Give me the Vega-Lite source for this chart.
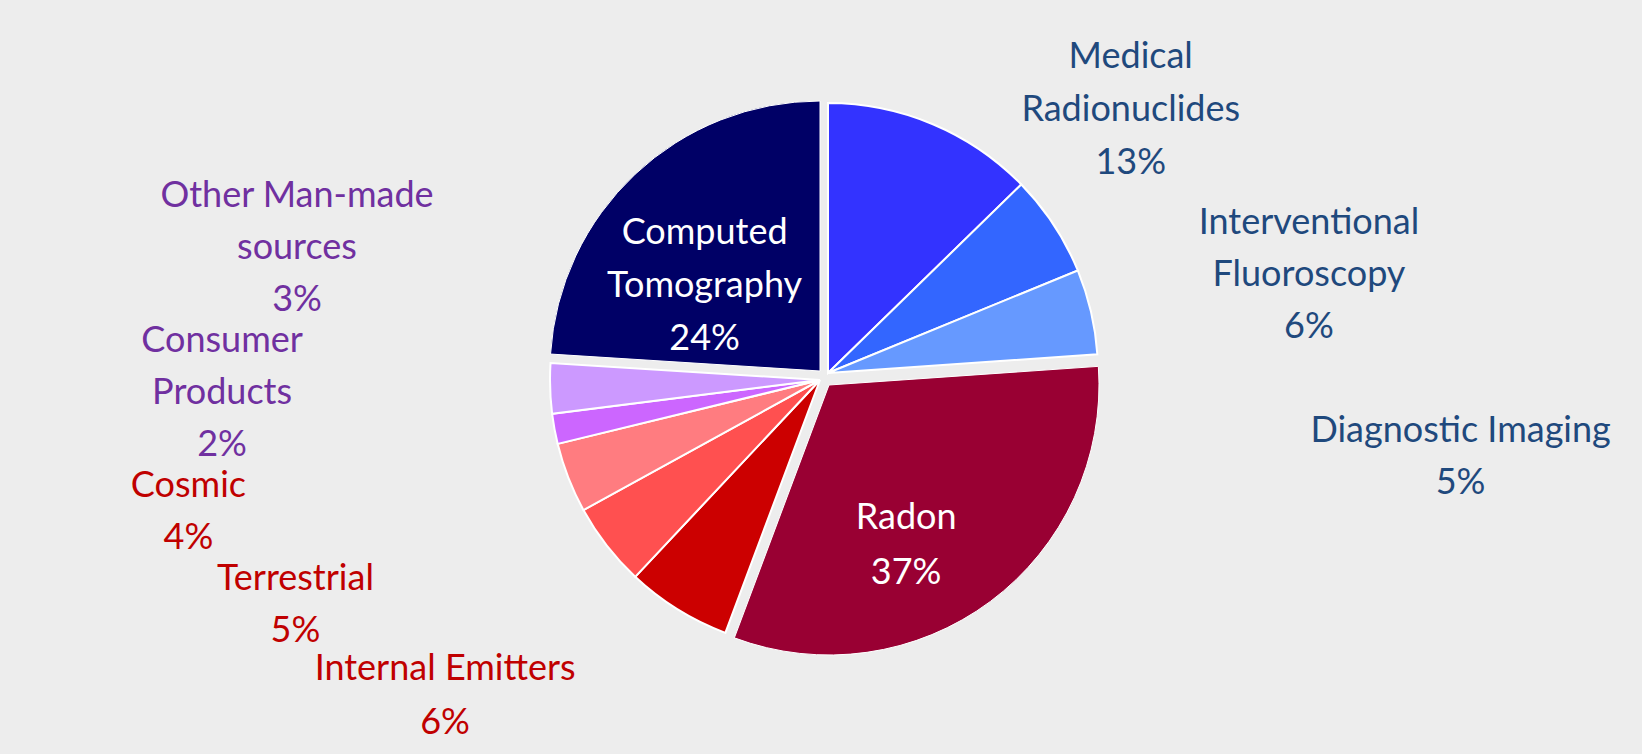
{
  "$schema": "https://vega.github.io/schema/vega-lite/v6.json",
  "width": 1642,
  "height": 754,
  "autosize": {"type": "fit", "contains": "padding"},
  "padding": 0,
  "background": "#ededed",
  "config": {"view": {"stroke": null}, "text": {"font": "Lato"}},
  "data": {
    "values": [
      {"order": 1, "source": "Medical Radionuclides", "value": 12.7, "label": "Medical\nRadionuclides\n13%"},
      {"order": 2, "source": "Interventional Fluoroscopy", "value": 6.1, "label": "Interventional\nFluoroscopy\n6%"},
      {"order": 3, "source": "Diagnostic Imaging", "value": 5.1, "label": "Diagnostic Imaging\n5%"},
      {"order": 4, "source": "Radon", "value": 31.8, "label": "Radon\n37%"},
      {"order": 5, "source": "Internal Emitters", "value": 6.3, "label": "Internal Emitters\n6%"},
      {"order": 6, "source": "Terrestrial", "value": 5.0, "label": "Terrestrial\n5%"},
      {"order": 7, "source": "Cosmic", "value": 4.2, "label": "Cosmic\n4%"},
      {"order": 8, "source": "Consumer Products", "value": 1.8, "label": "Consumer\nProducts\n2%"},
      {"order": 9, "source": "Other Man-made sources", "value": 3.0, "label": "Other Man-made\nsources\n3%"},
      {"order": 10, "source": "Computed Tomography", "value": 24.0, "label": "Computed\nTomography\n24%"}
    ]
  },
  "transform": [
    {"stack": "value", "groupby": [], "sort": [{"field": "order", "order": "ascending"}], "as": ["v0", "v1"]}
  ],
  "layer": [
    {
      "transform": [{"filter": "datum.order >= 1 && datum.order <= 3"}],
      "mark": {"type": "arc", "outerRadius": 270, "stroke": "#ffffff", "strokeWidth": 2, "xOffset": 7, "yOffset": -4},
      "encoding": {
        "theta": {"field": "v0", "type": "quantitative", "stack": null, "scale": {"domain": [0, 100]}},
        "theta2": {"field": "v1"},
        "color": {"field": "source", "type": "nominal", "legend": null,
          "scale": {"domain": ["Medical Radionuclides", "Interventional Fluoroscopy", "Diagnostic Imaging", "Radon", "Internal Emitters", "Terrestrial", "Cosmic", "Consumer Products", "Other Man-made sources", "Computed Tomography"],
                    "range": ["#3333ff", "#3366ff", "#6699ff", "#990033", "#cc0000", "#ff5050", "#ff7c80", "#cc66ff", "#cc99ff", "#000066"]}}
      }
    },
    {
      "transform": [{"filter": "datum.order == 4"}],
      "mark": {"type": "arc", "outerRadius": 270, "stroke": "#ffffff", "strokeWidth": 1, "xOffset": 8, "yOffset": 8},
      "encoding": {
        "theta": {"field": "v0", "type": "quantitative", "stack": null},
        "theta2": {"field": "v1"},
        "color": {"field": "source", "type": "nominal", "legend": null}
      }
    },
    {
      "transform": [{"filter": "datum.order >= 5 && datum.order <= 9"}],
      "mark": {"type": "arc", "outerRadius": 270, "stroke": "#ffffff", "strokeWidth": 2, "xOffset": -1, "yOffset": 3},
      "encoding": {
        "theta": {"field": "v0", "type": "quantitative", "stack": null},
        "theta2": {"field": "v1"},
        "color": {"field": "source", "type": "nominal", "legend": null}
      }
    },
    {
      "transform": [{"filter": "datum.order == 10"}],
      "mark": {"type": "arc", "outerRadius": 270, "stroke": "#ffffff", "strokeWidth": 1, "xOffset": -1, "yOffset": -6},
      "encoding": {
        "theta": {"field": "v0", "type": "quantitative", "stack": null},
        "theta2": {"field": "v1"},
        "color": {"field": "source", "type": "nominal", "legend": null}
      }
    },
    {
      "transform": [{"filter": "datum.order == 1"}],
      "mark": {"type": "text", "radius": 413, "thetaOffset": 0.848, "dy": -47, "color": "#1f497d", "fontSize": 36, "lineHeight": 53, "lineBreak": "\n", "align": "center", "baseline": "middle"},
      "encoding": {"theta": {"field": "v0", "type": "quantitative", "stack": null}, "text": {"field": "label"}}
    },
    {
      "transform": [{"filter": "datum.order == 2"}],
      "mark": {"type": "text", "radius": 500, "thetaOffset": 0.553, "dy": -45, "color": "#1f497d", "fontSize": 36, "lineHeight": 52, "lineBreak": "\n", "align": "center", "baseline": "middle"},
      "encoding": {"theta": {"field": "v0", "type": "quantitative", "stack": null}, "text": {"field": "label"}}
    },
    {
      "transform": [{"filter": "datum.order == 3"}],
      "mark": {"type": "text", "radius": 644, "thetaOffset": 0.5065, "dy": -21, "color": "#1f497d", "fontSize": 36, "lineHeight": 52, "lineBreak": "\n", "align": "center", "baseline": "middle"},
      "encoding": {"theta": {"field": "v0", "type": "quantitative", "stack": null}, "text": {"field": "label"}}
    },
    {
      "transform": [{"filter": "datum.order == 4"}],
      "mark": {"type": "text", "radius": 185, "thetaOffset": 1.1617, "dy": -23, "color": "#ffffff", "fontSize": 36, "lineHeight": 55, "lineBreak": "\n", "align": "center", "baseline": "middle"},
      "encoding": {"theta": {"field": "v0", "type": "quantitative", "stack": null}, "text": {"field": "label"}}
    },
    {
      "transform": [{"filter": "datum.order == 5"}],
      "mark": {"type": "text", "radius": 490, "thetaOffset": 0.5163, "dy": -22, "color": "#c00000", "fontSize": 36, "lineHeight": 54, "lineBreak": "\n", "align": "center", "baseline": "middle"},
      "encoding": {"theta": {"field": "v0", "type": "quantitative", "stack": null}, "text": {"field": "label"}}
    },
    {
      "transform": [{"filter": "datum.order == 6"}],
      "mark": {"type": "text", "radius": 571, "thetaOffset": 0.4154, "dy": -21, "color": "#c00000", "fontSize": 36, "lineHeight": 52, "lineBreak": "\n", "align": "center", "baseline": "middle"},
      "encoding": {"theta": {"field": "v0", "type": "quantitative", "stack": null}, "text": {"field": "label"}}
    },
    {
      "transform": [{"filter": "datum.order == 7"}],
      "mark": {"type": "text", "radius": 646, "thetaOffset": 0.2985, "dy": -22, "color": "#c00000", "fontSize": 36, "lineHeight": 52, "lineBreak": "\n", "align": "center", "baseline": "middle"},
      "encoding": {"theta": {"field": "v0", "type": "quantitative", "stack": null}, "text": {"field": "label"}}
    },
    {
      "transform": [{"filter": "datum.order == 8"}],
      "mark": {"type": "text", "radius": 599, "thetaOffset": 0.2213, "dy": -46, "color": "#7030a0", "fontSize": 36, "lineHeight": 52, "lineBreak": "\n", "align": "center", "baseline": "middle"},
      "encoding": {"theta": {"field": "v0", "type": "quantitative", "stack": null}, "text": {"field": "label"}}
    },
    {
      "transform": [{"filter": "datum.order == 9"}],
      "mark": {"type": "text", "radius": 541, "thetaOffset": 0.377, "dy": -46, "color": "#7030a0", "fontSize": 36, "lineHeight": 52, "lineBreak": "\n", "align": "center", "baseline": "middle"},
      "encoding": {"theta": {"field": "v0", "type": "quantitative", "stack": null}, "text": {"field": "label"}}
    },
    {
      "transform": [{"filter": "datum.order == 10"}],
      "mark": {"type": "text", "radius": 151, "thetaOffset": 0.628, "dy": -48, "color": "#ffffff", "fontSize": 36, "lineHeight": 53, "lineBreak": "\n", "align": "center", "baseline": "middle"},
      "encoding": {"theta": {"field": "v0", "type": "quantitative", "stack": null}, "text": {"field": "label"}}
    }
  ]
}
